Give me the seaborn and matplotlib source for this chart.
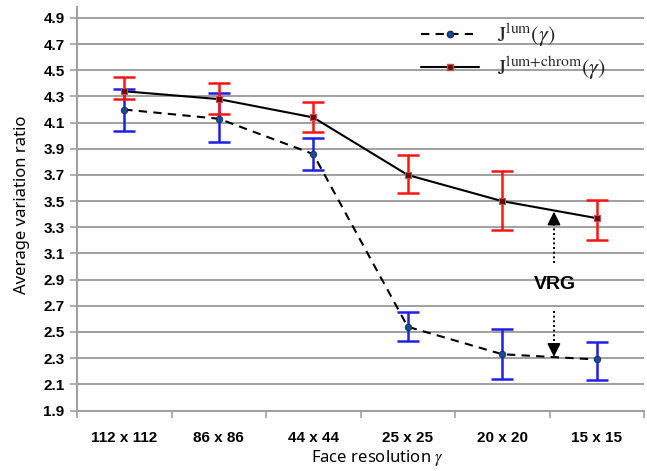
import matplotlib
matplotlib.use("Agg")
import matplotlib.pyplot as plt
from matplotlib.lines import Line2D
import numpy as np
import pandas as pd
import seaborn as sns

# ---- data ----
categories = ["112 x 112", "86 x 86", "44 x 44", "25 x 25", "20 x 20", "15 x 15"]
lum = [4.20, 4.13, 3.86, 2.54, 2.33, 2.29]
lum_hi = [4.36, 4.33, 3.98, 2.65, 2.52, 2.42]
lum_lo = [4.04, 3.95, 3.74, 2.43, 2.14, 2.13]
lumchrom = [4.34, 4.28, 4.14, 3.70, 3.50, 3.37]
lumchrom_hi = [4.45, 4.40, 4.26, 3.85, 3.73, 3.51]
lumchrom_lo = [4.28, 4.17, 4.03, 3.56, 3.28, 3.20]
yticks = [1.9, 2.1, 2.3, 2.5, 2.7, 2.9, 3.1, 3.3, 3.5, 3.7, 3.9, 4.1, 4.3, 4.5, 4.7, 4.9]

sns.set_theme(style="white")
plt.rcParams["mathtext.fontset"] = "stix"

df = pd.DataFrame({"pos": np.arange(len(categories)), "cat": categories,
                   "lum": lum, "lumchrom": lumchrom})

fig = plt.figure(figsize=(6.47, 4.71), dpi=100)
ax = fig.add_axes([77/647, (471-410.5)/471, 567/647, 403.5/471])

grid_c = "#a0a0a0"
for v in yticks[1:]:
    ax.axhline(v, color=grid_c, lw=1.4, zorder=0)

# lines
sns.lineplot(data=df, x="pos", y="lum", ax=ax, color="black", lw=1.5,
             linestyle=(0, (4, 3)), zorder=2)
sns.lineplot(data=df, x="pos", y="lumchrom", ax=ax, color="black", lw=1.5, zorder=2)

# error bars
x = df["pos"].to_numpy()
l = np.array(lum); lc = np.array(lumchrom)
ax.errorbar(x, l, yerr=[l - np.array(lum_lo), np.array(lum_hi) - l], fmt="none",
            ecolor="#1f1fe6", elinewidth=1.8, capsize=8, capthick=1.8, zorder=3)
ax.errorbar(x, lc, yerr=[lc - np.array(lumchrom_lo), np.array(lumchrom_hi) - lc], fmt="none",
            ecolor="#ff1414", elinewidth=1.8, capsize=8, capthick=1.8, zorder=3)

# markers
sns.scatterplot(data=df, x="pos", y="lum", ax=ax, marker="o", s=22,
                color="#1c4b94", edgecolor="#102c66", linewidth=0.6, zorder=4)
sns.scatterplot(data=df, x="pos", y="lumchrom", ax=ax, marker="s", s=18,
                color="#5c1010", edgecolor="#d84848", linewidth=0.8, zorder=4)

# VRG annotation: dotted shafts + solid arrowheads
vx = 4.547
for start, tip in [(3.03, 3.42), (2.66, 2.31)]:
    d = np.sign(tip - start)
    ax.plot([vx, vx], [start, tip - d * 0.06], color="black", lw=1.4,
            linestyle=(0, (1.0, 1.4)), zorder=5)
    ax.annotate("", xy=(vx, tip), xytext=(vx, tip - d * 0.09),
                arrowprops=dict(arrowstyle="-|>", color="black", lw=1.2,
                                mutation_scale=20, shrinkA=0, shrinkB=0), zorder=5)
ax.text(4.558, 2.865, "VRG", ha="center", va="center", fontsize=14,
        fontweight="bold", family="Liberation Sans", color="black", zorder=5)

# axes
ax.set_xlim(-0.5, 5.5)
ax.set_ylim(1.9, 4.984)
ax.set_yticks(yticks)
ax.set_yticklabels([f"{v:.1f}" for v in yticks], fontsize=11, fontweight="bold",
                   family="Liberation Sans", color="black")
ax.set_xticks(x)
ax.set_xticklabels(categories, fontsize=11, fontweight="bold",
                   family="Liberation Sans", color="black")
ax.set_xticks(np.arange(-0.5, 6.0, 1.0), minor=True)
ax.tick_params(axis="x", which="major", length=0, pad=15)
ax.tick_params(axis="x", which="minor", length=5, width=1.2, color=grid_c, bottom=True)
ax.tick_params(axis="y", which="major", length=5, width=1.2, color=grid_c, left=True, pad=4)

for s in ["top", "right"]:
    ax.spines[s].set_visible(False)
for s in ["left", "bottom"]:
    ax.spines[s].set_color(grid_c)
    ax.spines[s].set_linewidth(1.5)

ax.set_xlabel("")
ax.set_ylabel("")
fig.text(377/647, 1 - 458/471, r"Face resolution $\gamma$", ha="center", va="center",
         fontsize=12, family="Noto Sans", color="black")
fig.text(22/647, 1 - 205/471, "Average variation ratio", ha="center", va="center",
         rotation=90, fontsize=12, family="Noto Sans", color="black")

# legend
handles = [
    Line2D([0], [0], color="black", lw=1.5, linestyle=(0, (4, 3)), marker="o",
           markersize=4.5, markerfacecolor="#1c4b94", markeredgecolor="#102c66"),
    Line2D([0], [0], color="black", lw=1.5, marker="s", markersize=4.5,
           markerfacecolor="#5c1010", markeredgecolor="#d84848"),
]
labels = [r"$\mathrm{J}^{\mathrm{lum}}(\gamma)$", r"$\mathrm{J}^{\mathrm{lum{+}chrom}}(\gamma)$"]
fig.legend(handles, labels, loc="upper left", bbox_to_anchor=(410/647, 1 - 10/471),
           frameon=False, fontsize=16, handlelength=2.6, handletextpad=0.8,
           labelspacing=0.25, borderpad=0)

fig.savefig("out.png", dpi=100)
